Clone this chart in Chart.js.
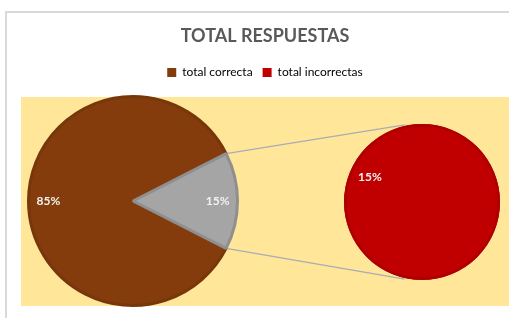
<!DOCTYPE html>
<html>
<head>
<meta charset="utf-8">
<script src="https://cdn.jsdelivr.net/npm/chart.js@4/dist/chart.umd.min.js"></script>
<style>
  html, body { margin: 0; padding: 0; background: #fff; overflow: hidden; width: 509px; height: 318px; }
  #frame { position: absolute; left: 5px; top: 11px; width: 520px; height: 310px; border-left: 2px solid #d9d9d9; border-top: 2px solid #d9d9d9; box-sizing: border-box; }
  #main { position: absolute; left: 5px; top: 11px; }
  #second { position: absolute; left: 337px; top: 117px; }
</style>
</head>
<body>
<div id="frame"></div>
<canvas id="main" width="520" height="307"></canvas>
<canvas id="second" width="170" height="170"></canvas>
<script>
// data
const categories = ['total correcta', 'total incorrectas'];
const mainValues = [85, 15];     // total correcta, resto (se abre en el segundo pastel)
const secondValues = [15];       // total incorrectas
const chartTitle = 'TOTAL RESPUESTAS';

const brown = '#843C0C';
const red = '#C00000';
const grey = '#A5A5A5';
const total = mainValues.reduce((a, b) => a + b, 0);

// draws the percent labels on each slice
const pctLabels = {
    id: 'pctLabels',
    afterDatasetsDraw(chart, args, opts) {
        const ctx = chart.ctx;
        const meta = chart.getDatasetMeta(0);
        const values = chart.data.datasets[0].data;
        ctx.save();
        ctx.font = 'bold 12px Lato';
        ctx.fillStyle = '#F2F2F2';
        ctx.textAlign = 'center';
        ctx.textBaseline = 'middle';
        meta.data.forEach((arc, i) => {
            const r = arc.outerRadius * opts.dist;
            let a = (arc.startAngle + arc.endAngle) / 2;
            if (opts.angle !== undefined) a = opts.angle;
            const x = arc.x + Math.cos(a) * r;
            const y = arc.y + Math.sin(a) * r;
            ctx.fillText(Math.round(values[i] / total * 100) + '%', x, y);
        });
        ctx.restore();
    }
};

// outline for the single full slice (no seam to the centre)
const ring = {
    id: 'ring',
    afterDatasetsDraw(chart) {
        const arc = chart.getDatasetMeta(0).data[0];
        const ctx = chart.ctx;
        ctx.save();
        ctx.strokeStyle = '#AE0000';
        ctx.lineWidth = 3;
        ctx.beginPath();
        ctx.arc(arc.x, arc.y, arc.outerRadius - 1.5, 0, Math.PI * 2);
        ctx.stroke();
        ctx.restore();
    }
};

const secondChart = new Chart(document.getElementById('second'), {
    type: 'pie',
    data: {
        labels: [categories[1]],
        datasets: [{
            data: secondValues,
            backgroundColor: [red],
            borderWidth: 0
        }]
    },
    options: {
        responsive: false,
        animation: false,
        layout: { padding: 7 },
        plugins: {
            legend: { display: false },
            tooltip: { enabled: false },
            pctLabels: { dist: 0.74, angle: Math.atan2(-25, -52) }
        }
    },
    plugins: [ring, pctLabels]
});

// yellow plot area, left pie placement and connector lines
const pieOfPie = {
    id: 'pieOfPie',
    afterLayout(chart) {
        const cx = 128, cy = 190, half = 106;
        chart.chartArea = { left: cx - half, right: cx + half, top: cy - half, bottom: cy + half, width: half * 2, height: half * 2 };
    },
    beforeDraw(chart) {
        const ctx = chart.ctx;
        ctx.save();
        ctx.fillStyle = '#FFE699';
        ctx.fillRect(16, 86, 504, 209);
        ctx.restore();
    },
    beforeDatasetsDraw(chart) {
        const ctx = chart.ctx;
        const arc = chart.getDatasetMeta(0).data[1];
        const s = secondChart.getDatasetMeta(0).data[0];
        const cvMain = chart.canvas.getBoundingClientRect();
        const cvSec = secondChart.canvas.getBoundingClientRect();
        const sx = s.x + cvSec.left - cvMain.left;
        const sy = s.y + cvSec.top - cvMain.top;
        const sr = s.outerRadius + 1;
        const ends = [arc.startAngle, arc.endAngle];
        const targets = [-Math.PI / 2 - 0.22, Math.PI / 2 + 0.22];
        ctx.save();
        ctx.strokeStyle = '#A8ADB5';
        ctx.lineWidth = 1.3;
        ends.forEach((a, i) => {
            ctx.beginPath();
            ctx.moveTo(arc.x + Math.cos(a) * arc.outerRadius, arc.y + Math.sin(a) * arc.outerRadius);
            ctx.lineTo(sx + Math.cos(targets[i]) * sr, sy + Math.sin(targets[i]) * sr);
            ctx.stroke();
        });
        ctx.restore();
    }
};

new Chart(document.getElementById('main'), {
    type: 'pie',
    data: {
        labels: [categories[0], 'Otro'],
        datasets: [{
            data: mainValues,
            backgroundColor: [brown, grey],
            borderColor: ['#78370B', '#8F8F8F'],
            borderWidth: 3,
            clip: false
        }]
    },
    options: {
        responsive: false,
        animation: false,
        rotation: 117,
        layout: { padding: { top: 4 } },
        plugins: {
            title: {
                display: true,
                text: chartTitle,
                color: '#595959',
                font: { family: 'Lato', size: 18, weight: 'bold' },
                padding: { top: 10, bottom: 10 }
            },
            legend: {
                display: true,
                onClick: null,
                labels: {
                    color: '#595959',
                    font: { family: 'Lato', size: 12 },
                    boxWidth: 9,
                    boxHeight: 9,
                    padding: 10,
                    generateLabels: () => categories.map((c, i) => ({
                        text: c,
                        fillStyle: [brown, red][i],
                        strokeStyle: [brown, red][i],
                        lineWidth: 0,
                        hidden: false,
                        index: i
                    }))
                }
            },
            tooltip: { enabled: false },
            pctLabels: { dist: 0.81 }
        }
    },
    plugins: [pieOfPie, pctLabels]
});
</script>
</body>
</html>
